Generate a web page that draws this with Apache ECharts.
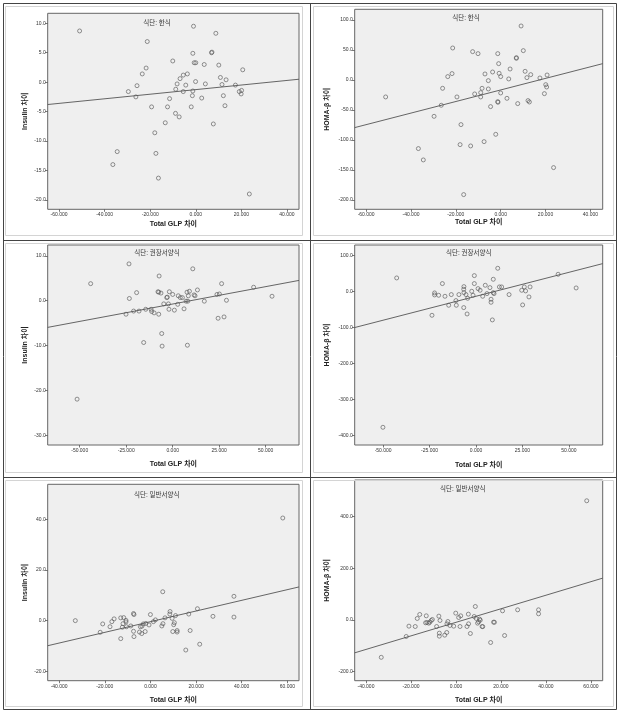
<!DOCTYPE html>
<html><head><meta charset="utf-8">
<script src="https://cdn.jsdelivr.net/npm/echarts@6/dist/echarts.min.js"></script>
<style>html,body{margin:0;padding:0;background:#fff}#c{width:625px;height:720px}</style>
</head><body><div id="c"></div>
<script>
// ---- data ----
const titles = ['식단: 한식','식단: 한식','식단: 권장서양식','식단: 권장서양식','식단: 일반서양식','식단: 일반서양식'];
const xName = 'Total GLP 차이';
const yNames = ['Insulin 차이','HOMA-β 차이','Insulin 차이','HOMA-β 차이','Insulin 차이','HOMA-β 차이'];

const p1 = [[-51.0,8.7],[-1.0,9.5],[8.8,8.3],[-21.3,6.9],[-1.3,4.9],[6.9,5.0],[7.1,5.1],[-10.1,3.6],[-0.7,3.3],[0,3.3],[3.7,3.0],[10.1,2.9],[20.6,2.1],[-21.8,2.4],[-23.5,1.4],[-3.7,1.4],[-5.5,1.2],[-6.9,0.6],[10.8,0.8],[13.3,0.4],[-0.1,0.1],[-25.8,-0.6],[-8.2,-0.3],[-4.4,-0.5],[4.2,-0.3],[11.5,-0.4],[17.4,-0.5],[-29.6,-1.6],[-8.8,-1.2],[-5.5,-1.6],[-1.3,-1.5],[19.1,-1.6],[20.1,-1.4],[19.9,-2.0],[-26.3,-2.5],[-1.5,-2.3],[-11.5,-2.8],[2.6,-2.7],[12.1,-2.3],[-19.4,-4.2],[-12.4,-4.2],[-2.0,-4.2],[12.8,-4.0],[-8.9,-5.3],[-7.3,-5.9],[-13.4,-6.9],[7.7,-7.1],[-18.0,-8.6],[-34.5,-11.8],[-17.5,-12.1],[-36.4,-14.0],[-16.4,-16.3],[23.5,-19.0]];
const p2 = [[-51.3,-28.3],[9.1,90],[-21.4,53.3],[-12.5,47.2],[-10.1,43.9],[-1.3,43.9],[10.1,48.9],[7.0,37.2],[7.0,36.1],[-0.9,27.2],[4.2,18.3],[10.9,14.4],[-3.6,13.3],[-7.0,10.0],[-0.7,11.1],[-21.7,10.6],[-23.6,5.6],[0,5.6],[13.4,8.9],[20.7,8.3],[11.7,3.9],[17.5,3.3],[3.6,1.7],[-5.5,-1.1],[-25.9,-13.9],[-8.3,-13.9],[-5.5,-15.0],[20.1,-7.8],[20.5,-11.7],[-11.6,-23.3],[-8.9,-21.1],[0,-21.7],[-19.5,-28.3],[-8.9,-28.3],[2.8,-30.6],[19.5,-22.8],[-1.3,-36.1],[-1.2,-37.2],[12.2,-34.4],[12.8,-36.7],[-26.5,-42.2],[7.6,-39.4],[-4.5,-44.4],[-29.7,-60.6],[-17.7,-74.4],[-2.2,-90.6],[-7.4,-102.8],[-36.7,-114.4],[-18.1,-107.8],[-13.4,-110],[-34.5,-133.3],[23.6,-146.1],[-16.5,-191.1]];
const p3 = [[-23.5,8.2],[10.8,7.1],[-7.3,5.5],[-44.1,3.8],[26.3,3.8],[43.5,3.0],[13.3,2.4],[-7.9,2.0],[-7.5,1.9],[-19.4,1.8],[-6.3,1.7],[-1.8,2.0],[7.7,1.9],[9.0,2.1],[0,1.4],[3.0,1.1],[8.4,1.1],[11.5,1.3],[12.0,1.1],[23.8,1.4],[25.1,1.5],[53.4,1.0],[-23.3,0.5],[-2.9,0.8],[-3.2,0.7],[4.1,0.7],[5.2,0.7],[7.2,-0.1],[8.1,-0.1],[17.0,-0.1],[28.9,0.1],[-4.8,-0.7],[-2.3,-0.7],[2.7,-0.8],[-25.1,-3.0],[-21.0,-2.3],[-18.1,-2.3],[-14.5,-1.9],[-11.6,-1.9],[-11.3,-2.4],[-10.0,-2.7],[-7.5,-3.0],[-2.0,-1.9],[0.9,-2.1],[6.1,-1.8],[24.4,-3.9],[27.6,-3.6],[-5.9,-7.3],[-15.6,-9.3],[-5.7,-10.1],[7.9,-9.9],[-51.4,-21.9]];
const p4 = [[-42.7,38.0],[11.7,64.9],[44.2,48.2],[-0.9,44.5],[-18.1,22.3],[-0.9,22.3],[9.3,34.3],[5.0,17.6],[7.5,11.1],[12.6,13.0],[13.8,13.0],[29.1,13.0],[26.0,13.0],[-6.5,13.9],[-6.6,6.5],[1.1,8.3],[2.2,3.7],[-2.3,0.9],[24.6,3.7],[26.7,1.9],[9.3,-2.8],[9.7,-5.6],[-22.3,-3.7],[-22.3,-9.3],[-20.1,-10.2],[-16.7,-13.0],[-13.3,-8.3],[-9.2,-8.3],[-6.5,-2.8],[-5.4,-8.3],[-4.5,-18.6],[-1.6,-10.2],[3.6,-13.0],[5.9,-5.6],[17.8,-8.3],[28.5,-14.8],[8.1,-21.3],[8.1,-29.7],[-10.8,-25.0],[-14.7,-38.0],[-10.6,-38.0],[25.1,-37.1],[-6.6,-44.5],[-4.8,-62.2],[-23.7,-65.9],[8.8,-78.8],[53.9,10.2],[-50.1,-377.6]];
const p5 = [[58.0,40.5],[5.4,11.4],[36.6,9.6],[20.6,4.7],[8.6,3.6],[8.5,2.6],[16.8,2.6],[-7.4,2.8],[-7.2,2.4],[0,2.4],[11.0,2.0],[27.4,1.7],[36.6,1.4],[6.4,1.1],[-13.0,1.1],[-11.7,1.2],[-15.9,0.7],[-10.7,0.1],[-16.9,-0.4],[-32.9,0.0],[2.2,0.3],[1.3,-0.4],[9.5,0.9],[-10.7,-0.5],[-12.0,-1.2],[-20.9,-1.3],[-2.0,-1.1],[-0.6,-1.7],[5.5,-1.2],[10.2,-1.6],[10.5,-0.8],[-17.7,-2.4],[-12.3,-2.6],[-10.5,-2.4],[-8.6,-2.1],[-4.4,-2.4],[-3.7,-2.2],[-3.1,-1.3],[5.0,-2.1],[-22.0,-4.6],[-7.4,-4.2],[-4.8,-4.5],[-3.8,-5.1],[-2.3,-4.3],[9.8,-4.3],[11.7,-4.5],[11.7,-3.9],[17.4,-3.9],[-7.2,-6.3],[-13.0,-7.1],[21.6,-9.3],[15.5,-11.6]];
const p6 = [[58.1,461.5],[8.6,51.7],[27.4,38.8],[36.7,38.8],[36.7,23.3],[20.7,34.9],[-0.1,25.9],[-16.1,20.7],[5.5,22.0],[2.1,15.5],[-13.2,15.5],[-7.6,14.2],[-17.2,5.2],[-10.5,1.3],[-11.0,-2.6],[-7.1,-2.6],[1.2,9.0],[8.1,12.9],[9.0,5.2],[10.5,2.6],[10.8,-1.3],[10.1,-7.8],[9.6,-12.9],[-12.9,-10.3],[-12.1,-12.9],[-11.6,-9.0],[-13.5,-11.6],[-3.6,-6.5],[-2.7,-22.0],[-4.0,-15.5],[-1.0,-24.6],[-18.1,-25.9],[-20.9,-24.6],[-8.6,-25.9],[1.8,-25.9],[4.9,-25.9],[5.6,-15.5],[11.6,-25.9],[11.9,-26.5],[16.7,-9.0],[17.1,-9.5],[-7.4,-51.7],[-7.4,-63.3],[-5.0,-59.5],[-4.1,-49.1],[6.4,-53.0],[-22.1,-64.6],[21.6,-60.8],[15.4,-87.9],[-33.2,-145.4]];
const pointSets = [p1,p2,p3,p4,p5,p6];

// fit line end points (read at the left and right plot edges)
const fits = [
  [[-65.0,-3.8],[45.3,0.5]],
  [[-65.1,-79.4],[45.5,27.2]],
  [[-67.2,-5.93],[67.9,4.52]],
  [[-65.3,-100],[68.2,77.9]],
  [[-45.0,-9.9],[65.1,13.3]],
  [[-45.0,-128],[65.2,161.6]]
];

// axis ranges and tick labels
const xRanges = [[-65.0,45.3],[-65.1,45.5],[-67.2,67.9],[-65.3,68.2],[-45.0,65.1],[-45.0,65.2]];
const xTicks = [[-60,-40,-20,0,20,40],[-60,-40,-20,0,20,40],[-50,-25,0,25,50],[-50,-25,0,25,50],[-40,-20,0,20,40,60],[-40,-20,0,20,40,60]];
const yRanges = [[-21.6,11.7],[-215.6,117.8],[-32.1,12.4],[-426.9,129.7],[-23.7,53.8],[-236,542]];
const yTicks = [[-20,-15,-10,-5,0,5,10],[-200,-150,-100,-50,0,50,100],[-30,-20,-10,0,10],[-400,-300,-200,-100,0,100],[-20,0,20,40],[-200,0,200,400]];

// ---- layout ----
const FONT = '"Liberation Sans","Noto Sans CJK KR","Noto Sans",sans-serif';
const grids = [
  {left:47.7, top:13.3, width:251.3, height:196},
  {left:354.7, top:9.3, width:248, height:200},
  {left:47.7, top:245, width:251.3, height:200},
  {left:354.7, top:245, width:248, height:200},
  {left:47.7, top:484.3, width:251.3, height:196.4},
  {left:354.7, top:480, width:248, height:200.7}
];
const yNameGap = [19,24,19,24,19,24];
const xNameGap = [11,9,16,16.5,15.5,15.5];
const titlePos = [[157,23.3],[466,18.3],[157,253.3],[468.7,253.3],[156.7,495.7],[462.7,489]];

const option = {
  animation:false,
  backgroundColor:'#fff',
  grid: grids.map(g => Object.assign({show:true, backgroundColor:'#efefef', borderColor:'#666', borderWidth:1, containLabel:false}, g)),
  xAxis: grids.map((g,i) => ({
    type:'value', gridIndex:i, min:xRanges[i][0], max:xRanges[i][1], position:'bottom',
    name:xName, nameLocation:'middle', nameGap:xNameGap[i],
    nameTextStyle:{fontFamily:FONT, fontSize:7, fontWeight:'bold', color:'#222'},
    axisLine:{show:false, onZero:false}, splitLine:{show:false},
    axisTick:{show:true, customValues:xTicks[i], length:2.5, lineStyle:{color:'#555', width:0.8}},
    axisLabel:{customValues:xTicks[i], formatter:v=>v.toFixed(3), fontFamily:FONT, fontSize:5, color:'#333', margin:3}
  })),
  yAxis: grids.map((g,i) => ({
    type:'value', gridIndex:i, min:yRanges[i][0], max:yRanges[i][1], position:'left',
    name:yNames[i], nameLocation:'middle', nameGap:yNameGap[i], nameRotate:90,
    nameTextStyle:{fontFamily:FONT, fontSize:7, fontWeight:'bold', color:'#222'},
    axisLine:{show:false, onZero:false}, splitLine:{show:false},
    axisTick:{show:true, customValues:yTicks[i], length:2.5, lineStyle:{color:'#555', width:0.8}},
    axisLabel:{customValues:yTicks[i], formatter:v=>v.toFixed(1), fontFamily:FONT, fontSize:5, color:'#333', margin:2}
  })),
  series: [].concat(
    pointSets.map((d,i) => ({
      type:'scatter', xAxisIndex:i, yAxisIndex:i, data:d, symbol:'circle', symbolSize:4,
      itemStyle:{color:'rgba(0,0,0,0)', borderColor:'#555', borderWidth:0.8}, silent:true
    })),
    fits.map((d,i) => ({
      type:'line', xAxisIndex:i, yAxisIndex:i, data:d, symbol:'none', clip:true,
      lineStyle:{color:'#555', width:0.9}, silent:true, z:3
    }))
  ),
  graphic: [].concat(
    // light inner chart frames
    [[5,6,297,229],[313,6,300,229],[5,243,297,229],[313,243,300,229],[5,480,297,226],[313,480,300,226]].map(r => ({
      type:'rect', shape:{x:r[0]+0.5,y:r[1]+0.5,width:r[2],height:r[3]}, style:{fill:'none', stroke:'#d4d4d4', lineWidth:1}, silent:true
    })),
    // table lines
    [
      {type:'rect', shape:{x:3.5,y:3.5,width:613,height:706}, style:{fill:'none', stroke:'#444', lineWidth:1}, silent:true},
      {type:'line', shape:{x1:310.5,y1:3.5,x2:310.5,y2:709.5}, style:{stroke:'#444', lineWidth:1}, silent:true},
      {type:'line', shape:{x1:3.5,y1:240.5,x2:616.5,y2:240.5}, style:{stroke:'#444', lineWidth:1}, silent:true},
      {type:'line', shape:{x1:3.5,y1:477.5,x2:616.5,y2:477.5}, style:{stroke:'#444', lineWidth:1}, silent:true}
    ],
    titles.map((t,i) => ({
      type:'text', x:titlePos[i][0], y:titlePos[i][1], z:10,
      style:{text:t, fontFamily:FONT, fontSize:6.5, fill:'#333', align:'center', verticalAlign:'middle'}, silent:true
    }))
  )
};
echarts.init(document.getElementById('c'), null, {renderer:'canvas'}).setOption(option);
</script></body></html>
